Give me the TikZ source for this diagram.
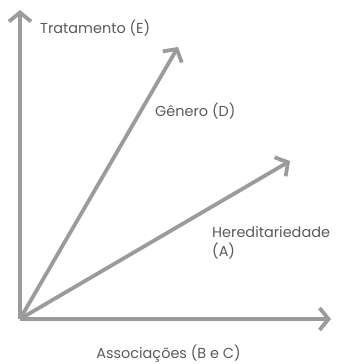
\documentclass[tikz,border=0pt]{standalone}
\usepackage{fontspec}
\setmainfont{Poppins}
\usetikzlibrary{arrows.meta}
\definecolor{eixo}{HTML}{9B9B9D}
\definecolor{texto}{HTML}{5A5A5C}

\begin{document}
\begin{tikzpicture}[x=1bp, y=-1bp,
  seta/.style={eixo, line width=3.8bp, -{Straight Barb[length=9bp, width=22bp, line width=3.8bp]}},
  rotulo/.style={text=texto, font=\fontsize{14.5}{19}\selectfont, inner sep=0pt}]
  \useasboundingbox (0,0) rectangle (339,364);
  \coordinate (O) at (20,319);
  \coordinate (E) at (20,10);
  \coordinate (BC) at (331,319);
  \coordinate (D) at (178,47);
  \coordinate (A) at (290,161);
  \draw[seta] (O) -- (E);
  \draw[seta] (O) -- (BC);
  \draw[seta] (O) -- (D);
  \draw[seta] (O) -- (A);
  \node[rotulo, anchor=base west] (tE) at (40,33) {Tratamento (E)};
  \node[rotulo, anchor=base west] (tD) at (155,116) {Gênero (D)};
  \node[rotulo, anchor=base west] (tA) at (212,237) {Hereditariedade};
  \node[rotulo, anchor=base west] (tA2) at (212,256) {(A)};
  \node[rotulo, anchor=base] (tBC) at (168.5,358) {Associações (B e C)};
\end{tikzpicture}
\end{document}
